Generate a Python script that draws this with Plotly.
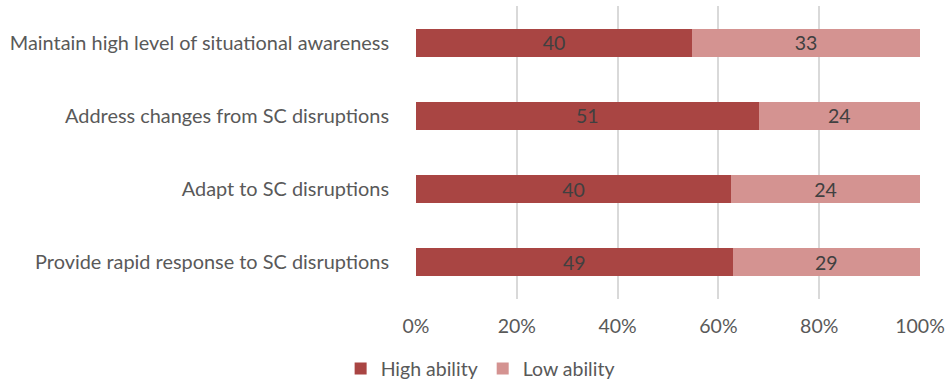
import plotly.graph_objects as go

categories = [
    "Maintain high level of situational awareness",
    "Address changes from SC disruptions",
    "Adapt to SC disruptions",
    "Provide rapid response to SC disruptions",
]
high_ability = [40, 51, 40, 49]
low_ability = [33, 24, 24, 29]
tick_vals = [0, 20, 40, 60, 80, 100]
tick_text = ["0%", "20%", "40%", "60%", "80%", "100%"]

FONT = "Lato"
TXT = "#595959"
FS = 19.5

fig = go.Figure()
fig.add_trace(go.Bar(
    y=categories, x=high_ability, orientation="h", name="High ability",
    marker=dict(color="#A94543", line=dict(width=0)),
    text=high_ability, textposition="inside", insidetextanchor="middle",
    textangle=0,
    textfont=dict(color="#404040", size=FS, family=FONT),
))
fig.add_trace(go.Bar(
    y=categories, x=low_ability, orientation="h", name="Low ability",
    marker=dict(color="#D49391", line=dict(width=0)),
    text=low_ability, textposition="inside", insidetextanchor="middle",
    textangle=0,
    textfont=dict(color="#404040", size=FS, family=FONT),
))

fig.update_layout(
    width=947, height=383,
    barmode="stack", barnorm="percent", bargap=0.62,
    margin=dict(l=416, r=27, t=6, b=84, autoexpand=False),
    paper_bgcolor="white", plot_bgcolor="white",
    font=dict(family=FONT, size=FS, color=TXT),
    uniformtext=dict(mode="show", minsize=FS),
    xaxis=dict(
        range=[0, 100], tickvals=tick_vals, ticktext=tick_text,
        showgrid=True, gridcolor="#D9D9D9", gridwidth=2,
        zeroline=False, showline=False,
        ticks="outside", ticklen=10, tickcolor="rgba(0,0,0,0)",
        tickfont=dict(size=FS, color=TXT),
    ),
    yaxis=dict(
        autorange="reversed", showgrid=False, zeroline=False,
        ticks="outside", ticklen=22, tickcolor="rgba(0,0,0,0)",
        tickfont=dict(size=19.9, color=TXT),
    ),
    legend=dict(
        orientation="h", xref="container", yref="container",
        x=0.507, xanchor="center", y=0.037, yanchor="middle",
        font=dict(size=FS, color=TXT), itemwidth=30,
        traceorder="normal",
    ),
    showlegend=True,
)

fig.write_html("out.html")
